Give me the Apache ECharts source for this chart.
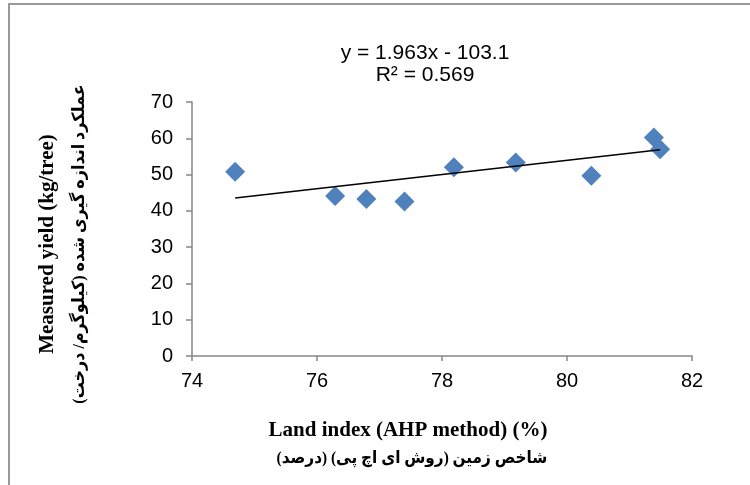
<!DOCTYPE html>
<html><head><meta charset="utf-8">
<script src="https://cdn.jsdelivr.net/npm/echarts@6/dist/echarts.min.js"></script>
<style>html,body{margin:0;padding:0;background:#fff}#c{width:750px;height:485px}</style>
</head><body><div id="c"></div>
<script>
var landIndex = [74.69, 76.29, 76.79, 77.40, 78.19, 79.18, 80.39, 81.39, 81.49];
var yieldVals = [50.8, 44.1, 43.3, 42.6, 52.0, 53.3, 49.7, 60.2, 57.0];
var trendSlope = 1.963;
var trendIntercept = -103.1;
var trendRange = [74.69, 81.49];
var eqLines = ['y = 1.963x - 103.1', 'R\u00b2 = 0.569'];
var xTitle = ['Land index (AHP method) (%)', 'شاخص زمین (روش ای اچ پی) (درصد)'];
var yTitle = ['Measured yield (kg/tree)', 'عملکرد اندازه گیری شده (کیلوگرم/ درخت)'];

var trendData = trendRange.map(function(x){ return [x, trendSlope * x + trendIntercept]; });
var scatterData = landIndex.map(function(x, i){ return [x, yieldVals[i]]; });

var chart = echarts.init(document.getElementById('c'), null, {renderer:'canvas'});
var axisCol = '#868686';
var titleFont = "'Liberation Serif', 'DejaVu Sans', serif";
var sansFont = "'Liberation Sans', Arial, sans-serif";
chart.setOption({
  animation: false,
  backgroundColor: '#fff',
  grid: {left: 192, top: 102, right: 58, bottom: 129},
  xAxis: {
    type: 'value', min: 74, max: 82, interval: 2,
    axisLine: {show: true, lineStyle: {color: axisCol, width: 1.5}},
    axisTick: {show: true, length: 5, lineStyle: {color: axisCol, width: 1.5}},
    axisLabel: {color: '#000', fontSize: 20, fontFamily: sansFont, margin: 15},
    splitLine: {show: false}
  },
  yAxis: {
    type: 'value', min: 0, max: 70, interval: 10,
    axisLine: {show: true, lineStyle: {color: axisCol, width: 1.5}},
    axisTick: {show: true, length: 6, lineStyle: {color: axisCol, width: 1.5}},
    axisLabel: {color: '#000', fontSize: 20, fontFamily: sansFont, margin: 19},
    splitLine: {show: false}
  },
  series: [
    {type: 'line', data: trendData, symbol: 'none', lineStyle: {color: '#000', width: 1.5}, z: 3},
    {type: 'scatter', data: scatterData, symbol: 'diamond', symbolSize: 20,
     itemStyle: {color: '#4F81BD', opacity: 1}, z: 2}
  ],
  graphic: [
    {type: 'rect', shape: {x: 9, y: 4, width: 800, height: 600},
     style: {fill: 'none', stroke: '#999', lineWidth: 2}, silent: true},
    {type: 'text', x: 425, y: 53, style: {text: eqLines[0], fontSize: 21, fontFamily: sansFont, fill: '#000', align: 'center', verticalAlign: 'middle'}},
    {type: 'text', x: 425, y: 75, style: {text: eqLines[1], fontSize: 21, fontFamily: sansFont, fill: '#000', align: 'center', verticalAlign: 'middle'}},
    {type: 'text', x: 408, y: 431, style: {text: xTitle[0], fontSize: 21, fontWeight: 'bold', fontFamily: titleFont, fill: '#000', align: 'center', verticalAlign: 'middle'}},
    {type: 'text', x: 412, y: 459, scaleX: 0.9, style: {text: xTitle[1], fontSize: 17, fontWeight: 'bold', fontFamily: titleFont, fill: '#000', align: 'center', verticalAlign: 'middle'}},
    {type: 'text', x: 48, y: 244, rotation: Math.PI/2, style: {text: yTitle[0], fontSize: 21, fontWeight: 'bold', fontFamily: titleFont, fill: '#000', align: 'center', verticalAlign: 'middle'}},
    {type: 'text', x: 80, y: 244, rotation: Math.PI/2, scaleX: 0.94, style: {text: yTitle[1], fontSize: 17, fontWeight: 'bold', fontFamily: titleFont, fill: '#000', align: 'center', verticalAlign: 'middle'}}
  ]
});
</script></body></html>
